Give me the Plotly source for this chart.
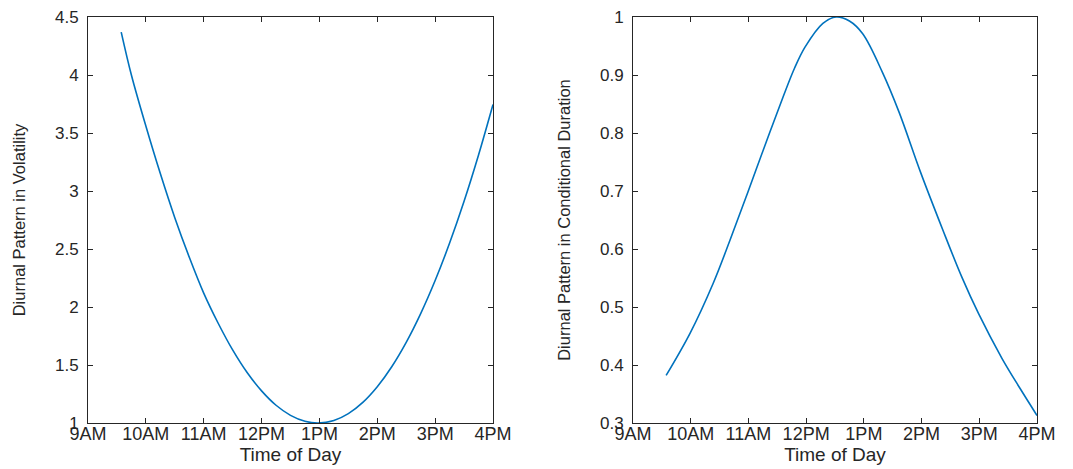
import plotly.graph_objects as go
from plotly.subplots import make_subplots

# ---- data (hours of day, decimal) ----
tick_hours = [9, 10, 11, 12, 13, 14, 15, 16]
tick_labels = ["9AM", "10AM", "11AM", "12PM", "1PM", "2PM", "3PM", "4PM"]

vol_time = [9.574, 9.75, 10.0, 10.25, 10.5, 10.75, 11.0, 11.25, 11.5, 11.75,
            12.0, 12.25, 12.5, 12.75, 12.98, 13.25, 13.5, 13.75, 14.0, 14.25,
            14.5, 14.75, 15.0, 15.25, 15.5, 15.75, 16.0]
vol_values = [4.37, 4.00, 3.56, 3.15, 2.77, 2.43, 2.12, 1.86, 1.63, 1.435,
              1.277, 1.153, 1.066, 1.015, 1.0, 1.022, 1.081, 1.178, 1.313, 1.485,
              1.695, 1.943, 2.228, 2.551, 2.911, 3.31, 3.745]

dur_time = [9.574, 9.99, 10.39, 10.68, 10.99, 11.31, 11.60, 11.80, 11.98, 12.29,
            12.52, 12.75, 12.98, 13.32, 13.61, 13.98, 14.36, 14.70, 14.99, 15.39,
            15.71, 16.0]
dur_values = [0.382, 0.455, 0.541, 0.615, 0.698, 0.785, 0.862, 0.912, 0.948, 0.989,
              1.0, 0.993, 0.971, 0.905, 0.836, 0.733, 0.635, 0.551, 0.488, 0.412,
              0.359, 0.313]

vol_ticks = [1, 1.5, 2, 2.5, 3, 3.5, 4, 4.5]
vol_tick_labels = ["1", "1.5", "2", "2.5", "3", "3.5", "4", "4.5"]
dur_ticks = [0.3, 0.4, 0.5, 0.6, 0.7, 0.8, 0.9, 1.0]
dur_tick_labels = ["0.3", "0.4", "0.5", "0.6", "0.7", "0.8", "0.9", "1"]

# ---- styling ----
# the page body adds an 8px margin, so the figure starts 8px inside the window
PAGE_W, PAGE_H, BODY = 1073, 469, 8
W, H = PAGE_W - 2 * BODY, PAGE_H - BODY
LINE = "#0072BD"
AX = "#262626"
FONT = "Liberation Sans, Arial, Helvetica, sans-serif"


def xdom(left, right):
    return [(left - BODY) / W, (right - BODY) / W]


def ydom(top, bottom):
    return [(H - (bottom - BODY)) / H, (H - (top - BODY)) / H]


fig = make_subplots(rows=1, cols=2)
fig.add_trace(go.Scatter(x=vol_time, y=vol_values, mode="lines",
                         line=dict(color=LINE, width=1.6, shape="spline", smoothing=1.0),
                         showlegend=False), row=1, col=1)
fig.add_trace(go.Scatter(x=dur_time, y=dur_values, mode="lines",
                         line=dict(color=LINE, width=1.6, shape="spline", smoothing=1.0),
                         showlegend=False), row=1, col=2)

common_x = dict(range=[9, 16], tickmode="array", tickvals=tick_hours, ticktext=tick_labels,
                tickangle=0, showline=True, mirror="ticks", linecolor=AX, linewidth=1,
                ticks="inside", ticklen=5, tickcolor=AX, tickwidth=1,
                showgrid=False, zeroline=False, automargin=False,
                ticklabelstandoff=-6, ticklabeloverflow="allow",
                tickfont=dict(family=FONT, size=18, color=AX),
                title=dict(text="Time of Day", font=dict(family=FONT, size=19, color=AX), standoff=3))
common_y = dict(showline=True, mirror="ticks", linecolor=AX, linewidth=1,
                ticks="inside", ticklen=5, tickcolor=AX, tickwidth=1,
                showgrid=False, zeroline=False, tickmode="array", automargin=False,
                ticklabelstandoff=5, ticklabeloverflow="allow",
                tickfont=dict(family=FONT, size=17, color=AX))

y_dom = ydom(17, 423)
fig.update_xaxes(domain=xdom(88, 493), row=1, col=1, **common_x)
fig.update_xaxes(domain=xdom(633, 1037), row=1, col=2, **common_x)
fig.update_yaxes(domain=y_dom, range=[1, 4.5], tickvals=vol_ticks, ticktext=vol_tick_labels,
                 title=dict(text="Diurnal Pattern in Volatility",
                            font=dict(family=FONT, size=16.5, color=AX), standoff=25),
                 row=1, col=1, **common_y)
fig.update_yaxes(domain=y_dom, range=[0.3, 1.0], tickvals=dur_ticks, ticktext=dur_tick_labels,
                 title=dict(text="Diurnal Pattern in Conditional Duration",
                            font=dict(family=FONT, size=16.5, color=AX), standoff=25),
                 row=1, col=2, **common_y)

fig.update_layout(width=W, height=H, margin=dict(l=0, r=0, t=0, b=0),
                  paper_bgcolor="white", plot_bgcolor="white",
                  font=dict(family=FONT, color=AX))

fig.write_html("out.html")
